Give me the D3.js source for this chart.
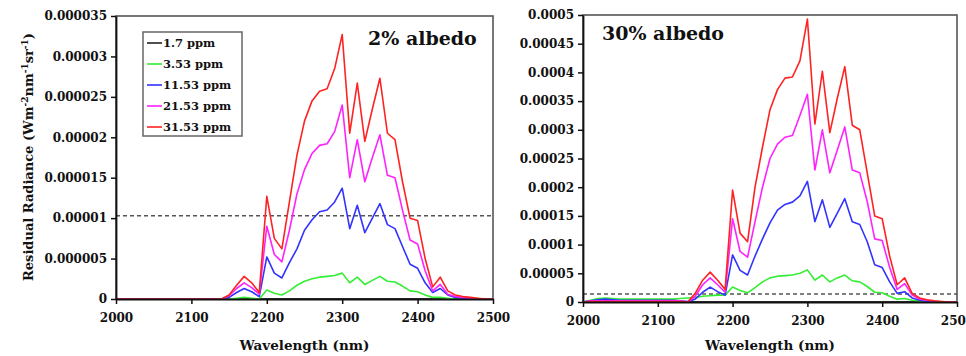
<!DOCTYPE html>
<html lang="en">
<head>
  <meta charset="UTF-8">
  <script src="https://d3js.org/d3.v7.min.js"></script>
  <title>Residual Radiance</title>
  <style>
    body { margin: 0; background: #fff; }
    svg text { font-family: 'DejaVu Serif', 'Liberation Serif', serif; font-weight: bold; fill: #111; }
  </style>
</head>
<body>
  <svg id="chart" width="966" height="356"></svg>

  <script>
    // wavelengths (nm)
    const wavelength = [2000, 2010, 2020, 2030, 2040, 2050, 2060, 2070, 2080, 2090,
      2100, 2110, 2120, 2130, 2140, 2150, 2160, 2170, 2180, 2190,
      2200, 2210, 2220, 2230, 2240, 2250, 2260, 2270, 2280, 2290,
      2300, 2310, 2320, 2330, 2340, 2350, 2360, 2370, 2380, 2390,
      2400, 2410, 2420, 2430, 2440, 2450, 2460, 2470, 2480, 2490, 2500];

    const seriesNames = ["1.7 ppm", "3.53 ppm", "11.53 ppm", "21.53 ppm", "31.53 ppm"];
    const xTicks = [2000, 2100, 2200, 2300, 2400, 2500];

    // 2% albedo, values in units of 1e-5 W m-2 nm-1 sr-1
    const low_1_7 = [0,0,0,0,0,0,0,0,0,0,0,0,0,0,0,0,0,0,0,0,0,0,0,0,0,0,0,0,0,0,0,0,0,0,0,0,0,0,0,0,0,0,0,0,0,0,0,0,0,0,0];
    const low_3_53 = [0,0,0,0,0,0,0,0,0,0,0,0,0,0,0,
      0, 0.01, 0.02, 0.01, 0, 0.11, 0.07, 0.05, 0.1, 0.17, 0.22, 0.25, 0.27, 0.28, 0.29, 0.32,
      0.2, 0.27, 0.18, 0.23, 0.28, 0.22, 0.21, 0.16, 0.1, 0.09, 0.05, 0.02, 0.02, 0.01, 0, 0, 0, 0, 0, 0];
    const low_11_53 = [0,0,0,0,0,0,0,0,0,0,0,0,0,0,0,
      0.02, 0.08, 0.13, 0.09, 0.03, 0.52, 0.32, 0.26, 0.45, 0.62, 0.85, 0.98, 1.08, 1.1, 1.2, 1.37,
      0.87, 1.16, 0.82, 1.0, 1.18, 0.92, 0.87, 0.65, 0.43, 0.38, 0.2, 0.08, 0.13, 0.05, 0.02, 0.01, 0, 0, 0, 0];
    const low_21_53 = [0,0,0,0,0,0,0,0,0,0,0,0,0,0,0,
      0.04, 0.13, 0.2, 0.14, 0.06, 0.9, 0.55, 0.46, 0.85, 1.3, 1.6, 1.8, 1.9, 1.92, 2.07, 2.4,
      1.5, 1.97, 1.45, 1.75, 2.03, 1.53, 1.5, 1.1, 0.73, 0.68, 0.35, 0.1, 0.18, 0.06, 0.03, 0.02, 0.01, 0, 0, 0];
    const low_31_53 = [0,0,0,0,0,0,0,0,0,0,0,0,0,0,0,
      0.05, 0.17, 0.28, 0.2, 0.08, 1.27, 0.75, 0.62, 1.2, 1.78, 2.2, 2.45, 2.57, 2.6, 2.85, 3.27,
      2.05, 2.67, 1.95, 2.35, 2.73, 2.05, 1.97, 1.45, 1.0, 0.97, 0.5, 0.15, 0.27, 0.1, 0.05, 0.03, 0.02, 0.01, 0, 0];
    const lowThreshold = 1.03;
    const lowYTicks = [0, 0.5, 1, 1.5, 2, 2.5, 3, 3.5];
    const lowYLabels = ["0", "0.000005", "0.00001", "0.000015", "0.00002", "0.000025", "0.00003", "0.000035"];

    // 30% albedo, values in units of 1e-4 W m-2 nm-1 sr-1
    const high_1_7 = [0,0,0,0,0,0,0,0,0,0,0,0,0,0,0,0,0,0,0,0,0,0,0,0,0,0,0,0,0,0,0,0,0,0,0,0,0,0,0,0,0,0,0,0,0,0,0,0,0,0,0];
    const high_3_53 = [0, 0.03, 0.06, 0.07, 0.06, 0.05, 0.05, 0.05, 0.05, 0.05, 0.05, 0.05, 0.05, 0.06, 0.07,
      0.08, 0.1, 0.11, 0.12, 0.12, 0.26, 0.2, 0.16, 0.25, 0.35, 0.42, 0.45, 0.46, 0.47, 0.5, 0.56,
      0.38, 0.47, 0.35, 0.42, 0.47, 0.37, 0.35, 0.27, 0.17, 0.16, 0.1, 0.05, 0.06, 0.03, 0.02, 0.01, 0, 0, 0, 0];
    const high_11_53 = [0, 0.02, 0.04, 0.05, 0.04, 0.03, 0.03, 0.03, 0.03, 0.03, 0.03, 0.03, 0.03, 0.02, 0.01,
      0.05, 0.17, 0.26, 0.18, 0.12, 0.82, 0.55, 0.47, 0.8, 1.1, 1.38, 1.6, 1.7, 1.74, 1.85, 2.1,
      1.4, 1.78, 1.3, 1.55, 1.8, 1.4, 1.35, 1.05, 0.65, 0.6, 0.35, 0.15, 0.18, 0.07, 0.03, 0.01, 0, 0, 0, 0];
    const high_21_53 = [0, 0.02, 0.02, 0.02, 0.02, 0.02, 0.02, 0.02, 0.02, 0.02, 0.02, 0.02, 0.02, 0.02, 0,
      0.1, 0.3, 0.42, 0.3, 0.17, 1.45, 0.88, 0.78, 1.4, 2.0, 2.5, 2.75, 2.87, 2.9, 3.25, 3.62,
      2.3, 3.0, 2.25, 2.65, 3.05, 2.3, 2.25, 1.75, 1.1, 1.07, 0.6, 0.22, 0.32, 0.12, 0.05, 0.03, 0.01, 0, 0, 0];
    const high_31_53 = [0, 0.01, 0.01, 0.01, 0.01, 0.01, 0.01, 0.01, 0.01, 0.01, 0.01, 0.01, 0.01, 0.01, 0,
      0.15, 0.38, 0.52, 0.38, 0.22, 1.95, 1.2, 1.05, 2.0, 2.7, 3.35, 3.7, 3.9, 3.92, 4.2, 4.93,
      3.1, 4.02, 2.95, 3.55, 4.1, 3.08, 3.0, 2.25, 1.5, 1.45, 0.8, 0.3, 0.42, 0.15, 0.07, 0.04, 0.02, 0.01, 0, 0];
    const highThreshold = 0.14;
    const highYTicks = [0, 0.5, 1, 1.5, 2, 2.5, 3, 3.5, 4, 4.5, 5];
    const highYLabels = ["0", "0.00005", "0.0001", "0.00015", "0.0002", "0.00025", "0.0003", "0.00035", "0.0004", "0.00045", "0.0005"];

    const colors = ["#222222", "#33ee33", "#3333ff", "#ff22ff", "#ff2222"];
    const svg = d3.select("#chart");

    function drawPanel(opt) {
      const x = d3.scaleLinear().domain([2000, 2500]).range([opt.left, opt.right]);
      const y = d3.scaleLinear().domain([0, opt.yMax]).range([opt.bottom, opt.top]);
      const g = svg.append("g");

      // frame
      g.append("rect")
        .attr("x", opt.left).attr("y", opt.top)
        .attr("width", opt.right - opt.left).attr("height", opt.bottom - opt.top)
        .attr("fill", "none").attr("stroke", "#555").attr("stroke-width", 1.6);

      // threshold (dashed)
      g.append("line")
        .attr("x1", opt.left).attr("x2", opt.right)
        .attr("y1", y(opt.threshold)).attr("y2", y(opt.threshold))
        .attr("stroke", "#555").attr("stroke-width", 1.4).attr("stroke-dasharray", "4,3");

      // series
      const line = d3.line().x((d, i) => x(wavelength[i])).y(d => y(d));
      opt.series.forEach((s, k) => {
        g.append("path").datum(s)
          .attr("d", line)
          .attr("fill", "none")
          .attr("stroke", colors[k])
          .attr("stroke-width", 1.6)
          .attr("stroke-linejoin", "round");
      });

      // axes
      const xAxis = g.append("g")
        .attr("transform", `translate(0,${opt.bottom})`)
        .call(d3.axisBottom(x).tickValues(xTicks).tickSize(5).tickSizeOuter(0).tickPadding(9).tickFormat(d3.format("d")));
      const yAxis = g.append("g")
        .attr("transform", `translate(${opt.left},0)`)
        .call(d3.axisLeft(y).tickValues(opt.yTicks).tickSize(5).tickSizeOuter(0).tickPadding(4)
          .tickFormat((d, i) => opt.yLabels[i]));
      [xAxis, yAxis].forEach(a => {
        a.select(".domain").attr("stroke", "#111").attr("stroke-width", 1.8);
        a.selectAll(".tick line").attr("stroke", "#111").attr("stroke-width", 1.5);
        a.selectAll(".tick text").attr("font-size", opt.tickFont).attr("fill", "#111")
          .style("font-family", "'DejaVu Serif', serif").style("font-weight", "bold");
      });

      // axis titles
      g.append("text")
        .attr("x", (opt.left + opt.right) / 2).attr("y", 350)
        .attr("text-anchor", "middle").attr("font-size", 13.5)
        .text("Wavelength (nm)");

      g.append("text")
        .attr("x", opt.titleX).attr("y", opt.titleY)
        .attr("font-size", 19)
        .text(opt.title);
    }

    drawPanel({
      left: 116, right: 493, top: 16, bottom: 299, yMax: 3.5,
      series: [low_1_7, low_3_53, low_11_53, low_21_53, low_31_53],
      threshold: lowThreshold, yTicks: lowYTicks, yLabels: lowYLabels, tickFont: 12,
      title: "2% albedo", titleX: 368, titleY: 45
    });
    drawPanel({
      left: 583, right: 957, top: 15, bottom: 302, yMax: 5,
      series: [high_1_7, high_3_53, high_11_53, high_21_53, high_31_53],
      threshold: highThreshold, yTicks: highYTicks, yLabels: highYLabels, tickFont: 12,
      title: "30% albedo", titleX: 602, titleY: 40
    });

    // y axis title (left panel only)
    const yt = svg.append("text")
      .attr("transform", "translate(33,157) rotate(-90)")
      .attr("text-anchor", "middle").attr("font-size", 13);
    yt.append("tspan").text("Residual Radiance (Wm");
    yt.append("tspan").attr("font-size", 9).attr("dy", -5).text("-2");
    yt.append("tspan").attr("dy", 5).text("nm");
    yt.append("tspan").attr("font-size", 9).attr("dy", -5).text("-1");
    yt.append("tspan").attr("dy", 5).text("sr");
    yt.append("tspan").attr("font-size", 9).attr("dy", -5).text("-1");
    yt.append("tspan").attr("dy", 5).text(")");

    // legend
    const legend = svg.append("g").attr("transform", "translate(143,32)");
    legend.append("rect").attr("width", 99).attr("height", 104)
      .attr("fill", "#fff").attr("stroke", "#666").attr("stroke-width", 1.5);
    seriesNames.forEach((name, i) => {
      const row = legend.append("g").attr("transform", `translate(0,${11 + i * 21})`);
      row.append("line").attr("x1", 4).attr("x2", 19).attr("stroke", colors[i]).attr("stroke-width", 1.6);
      row.append("text").attr("x", 20).attr("y", 4).attr("font-size", 11.5).text(name);
    });
  </script>
</body>
</html>
